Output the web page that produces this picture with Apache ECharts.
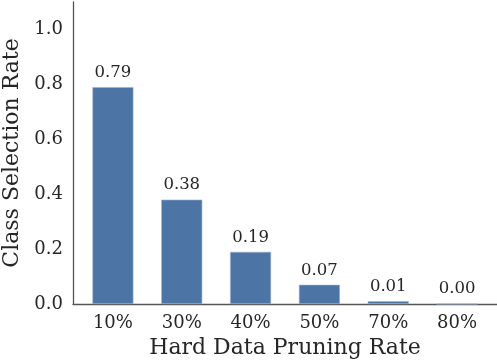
<!DOCTYPE html>
<html><head><meta charset="utf-8">
<script src="https://cdn.jsdelivr.net/npm/echarts@6/dist/echarts.min.js"></script>
<style>html,body{margin:0;padding:0;background:#fff}#c{width:497px;height:360px}</style>
</head><body><div id="c"></div>
<script>
const categories = ['10%', '30%', '40%', '50%', '70%', '80%'];
const values = [0.79, 0.38, 0.19, 0.07, 0.01, 0.00];
const yTicks = [0, 0.2, 0.4, 0.6, 0.8, 1.0];

const font = 'DejaVu Serif';
const chart = echarts.init(document.getElementById('c'), null, {renderer: 'canvas'});
chart.setOption({
  animation: false,
  grid: {left: 73, right: 0, top: 2, bottom: 56, containLabel: false, outerBoundsMode: 'none'},
  xAxis: {
    type: 'value', min: -0.58, max: 5.58,
    splitLine: {show: false},
    axisLine: {show: true, onZero: false, lineStyle: {color: '#555', width: 1.3}},
    axisTick: {show: false},
    axisLabel: {
      customValues: categories.map((c, i) => i),
      formatter: v => categories[Math.round(v)],
      fontFamily: font, fontSize: 18, color: '#262626', margin: 10
    },
    name: 'Hard Data Pruning Rate', nameLocation: 'middle', nameGap: 33,
    nameTextStyle: {fontFamily: font, fontSize: 22, color: '#262626'}
  },
  yAxis: {
    type: 'value', min: 0, max: 1.1,
    splitLine: {show: false},
    axisLine: {show: true, onZero: false, lineStyle: {color: '#555', width: 1.3}},
    axisTick: {show: false},
    axisLabel: {
      customValues: yTicks,
      formatter: v => v.toFixed(1),
      fontFamily: font, fontSize: 18, color: '#262626', margin: 10
    },
    name: 'Class Selection Rate', nameLocation: 'middle', nameGap: 40,
    nameTextStyle: {fontFamily: font, fontSize: 22, color: '#262626'}
  },
  series: [{
    type: 'bar',
    barWidth: 41,
    data: values.map((v, i) => [i, v]),
    itemStyle: {color: '#4c75a6', borderColor: '#9fb4cf', borderWidth: 0.6},
    label: {
      show: true, position: 'top', distance: 6,
      formatter: p => p.value[1].toFixed(2),
      fontFamily: font, fontSize: 16.5, color: '#262626'
    }
  }]
});
</script></body></html>
